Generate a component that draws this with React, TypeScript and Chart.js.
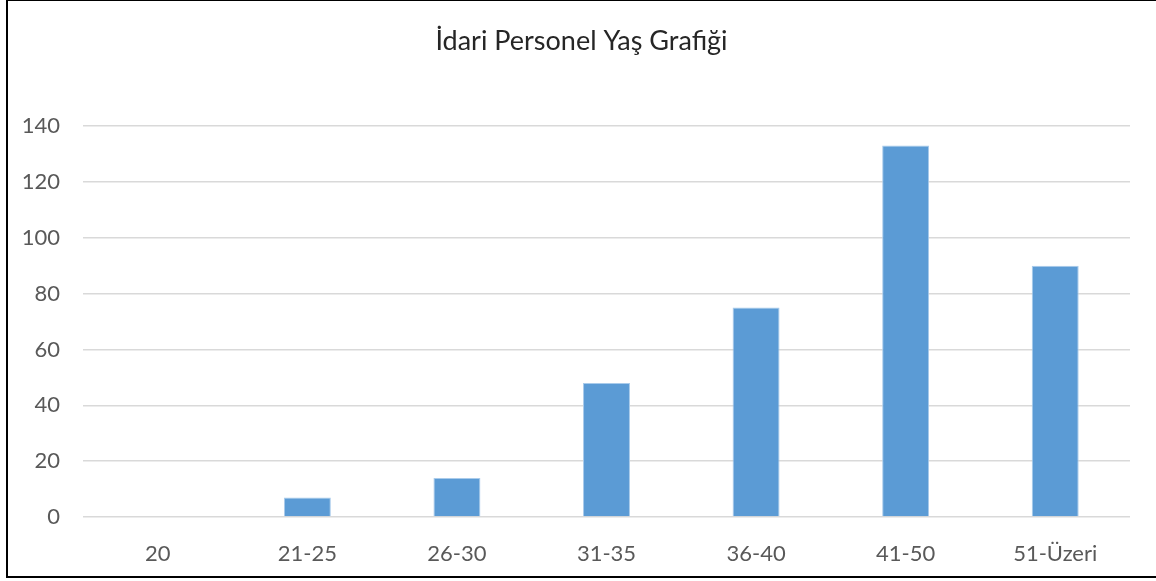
import React, { useEffect, useRef } from "react";
import { Chart, registerables } from "chart.js";

Chart.register(...registerables);

const categories = ["20", "21-25", "26-30", "31-35", "36-40", "41-50", "51-Üzeri"];
const values = [0, 7, 14, 48, 75, 133, 90];
const chartTitle = "İdari Personel Yaş Grafiği";
const yMin = 0;
const yMax = 140;
const yStep = 20;

export default function App() {
  const ref = useRef<HTMLCanvasElement | null>(null);

  useEffect(() => {
    if (!ref.current) return;
    const chart = new Chart(ref.current, {
      type: "bar",
      data: {
        labels: categories,
        datasets: [
          {
            data: values,
            backgroundColor: "#5B9BD5",
            borderColor: "#A9CBEB",
            borderWidth: 1,
            categoryPercentage: 1,
            barPercentage: 0.314,
          },
        ],
      },
      options: {
        animation: false,
        responsive: false,
        maintainAspectRatio: false,
        layout: { padding: { left: 7, right: 0, top: 0, bottom: 0 } },
        plugins: {
          legend: { display: false },
          tooltip: { enabled: false },
          title: {
            display: true,
            text: chartTitle,
            color: "#262626",
            font: { family: "Lato", size: 27, weight: "normal", lineHeight: 1.2 },
            padding: { top: 25.5, bottom: 68.1 },
          },
        },
        scales: {
          x: {
            grid: { display: false },
            border: { display: false },
            ticks: {
              color: "#595959",
              font: { family: "Lato", size: 22, lineHeight: 1.2 },
              padding: 16,
              maxRotation: 0,
            },
            afterFit: (s: any) => {
              s.height = 64;
            },
          },
          y: {
            min: yMin,
            max: yMax,
            ticks: {
              stepSize: yStep,
              color: "#595959",
              font: { family: "Lato", size: 22 },
              padding: 23,
            },
            grid: { color: "#D9D9D9", lineWidth: 1.5, drawTicks: false },
            border: { display: false },
            afterFit: (s: any) => {
              s.width = 76;
            },
          },
          yRight: {
            type: "linear",
            position: "right",
            min: yMin,
            max: yMax,
            grid: { display: false, drawTicks: false },
            border: { display: false },
            ticks: { display: false },
            afterFit: (s: any) => {
              s.width = 26;
            },
          },
        },
      },
    });
    return () => chart.destroy();
  }, []);

  return (
    <div style={{ position: "fixed", left: 0, top: 0, width: 1156, height: 581, background: "#fff" }}>
      <canvas ref={ref} width={1156} height={581} style={{ position: "absolute", left: 0, top: 0 }} />
      <div
        style={{
          position: "absolute",
          left: 6,
          top: -1,
          width: 1170,
          height: 579,
          border: "2px solid #000",
          boxSizing: "border-box",
          pointerEvents: "none",
        }}
      />
    </div>
  );
}
